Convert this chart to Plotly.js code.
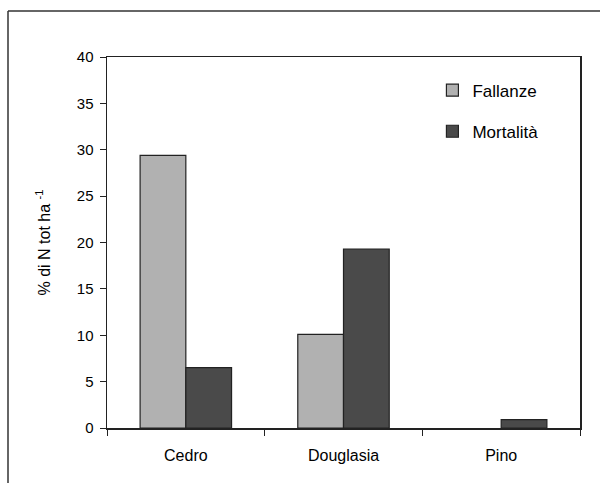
<!DOCTYPE html>
<html>
<head>
<meta charset="utf-8">
<script src="https://cdn.plot.ly/plotly-3.0.1.min.js"></script>
<style>html,body{margin:0;padding:0;background:#fff;}#chart{width:600px;height:483px;}</style>
</head>
<body>
<div id="chart"></div>
<script>
const categories = ["Cedro", "Douglasia", "Pino"];
const fallanze = [29.4, 10.1, 0];
const mortalita = [6.5, 19.3, 0.9];
const seriesNames = ["Fallanze", "Mortalità"];
const yTicks = [0, 5, 10, 15, 20, 25, 30, 35, 40];

const fam = "Liberation Sans, Arial, sans-serif";
const txt = "#000";

const traces = [
  {type: "bar", name: seriesNames[0], x: categories, y: fallanze, legendgroup: "a",
   marker: {color: "#b1b1b1", line: {color: "#222", width: fallanze.map(v => v > 0 ? 1.2 : 0)}}},
  {type: "bar", name: seriesNames[1], x: categories, y: mortalita, legendgroup: "b",
   marker: {color: "#4a4a4a", line: {color: "#222", width: 1.2}}}
];

const layout = {
  width: 600, height: 483,
  margin: {l: 107, r: 20, t: 57, b: 55},
  paper_bgcolor: "#fff", plot_bgcolor: "#fff",
  font: {family: fam, color: txt, size: 14},
  barmode: "group",
  bargap: 0.42, bargroupgap: 0,
  showlegend: true,
  legend: {x: 0.688, y: 0.958, xanchor: "left", yanchor: "top", bgcolor: "rgba(0,0,0,0)",
           font: {family: fam, size: 17, color: txt}, tracegroupgap: 16, itemwidth: 30},
  xaxis: {
    type: "category", tickson: "boundaries", ticks: "outside", ticklen: 6, tickcolor: "#222",
    showline: true, linecolor: "#222", linewidth: 1.5, mirror: true, showgrid: false,
    tickfont: {family: fam, size: 16, color: txt}, ticklabelstandoff: 12,
    fixedrange: true
  },
  yaxis: {
    range: [0, 40], tickvals: yTicks, ticktext: yTicks.map(String), ticks: "outside", ticklen: 6,
    tickcolor: "#222", showline: true, linecolor: "#222", linewidth: 1.5, mirror: true,
    showgrid: false, zeroline: false, ticklabelstandoff: 3,
    tickfont: {family: fam, size: 15, color: txt},
    title: {text: "% di N tot ha <sup>-1</sup>", font: {family: fam, size: 16, color: txt}, standoff: 22}
  },
  shapes: [
    {type: "line", xref: "paper", yref: "paper", x0: -0.2093, x1: 1.1, y0: 1.124, y1: 1.124,
     line: {color: "#333", width: 1.5}},
    {type: "line", xref: "paper", yref: "paper", x0: -0.2093, x1: -0.2093, y0: 1.124, y1: -0.2,
     line: {color: "#333", width: 1.5}}
  ]
};

Plotly.newPlot("chart", traces, layout, {displayModeBar: false, staticPlot: true});
</script>
</body>
</html>
